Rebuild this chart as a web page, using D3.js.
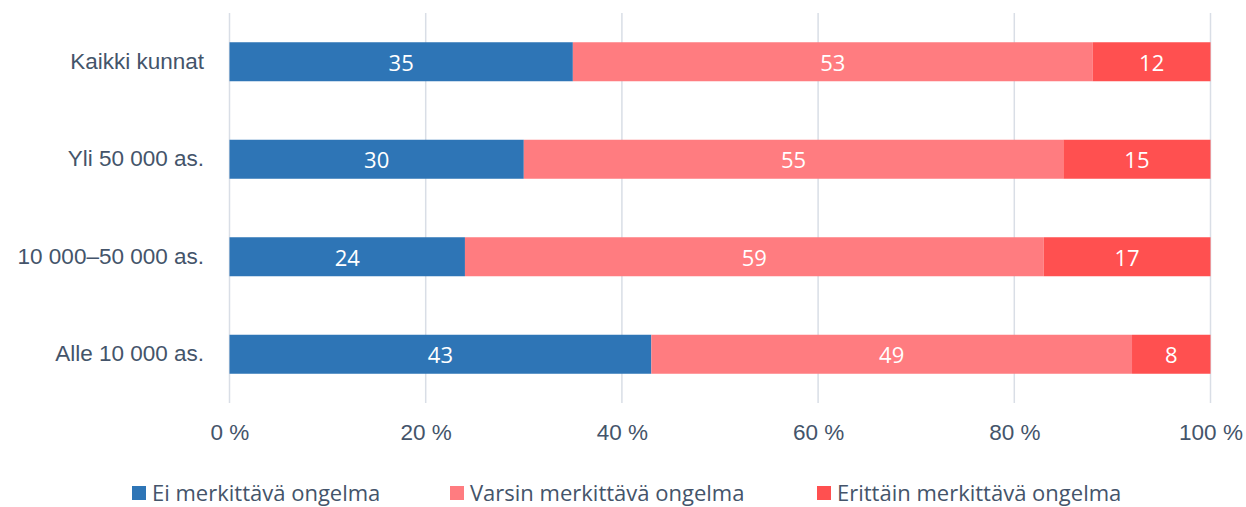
<!DOCTYPE html>
<html>
<head>
<meta charset="utf-8">
<script src="https://cdn.jsdelivr.net/npm/d3@7"></script>
<style>
  body { margin: 0; background: #fff; }
  svg { font-family: "Open Sans", Lato, sans-serif; }
  .tick text { fill: #44546A; font-size: 22.5px; }
</style>
</head>
<body>
<svg id="chart" width="1246" height="507"></svg>
<script>
// DATA
const categories = ['Kaikki kunnat', 'Yli 50 000 as.', '10 000–50 000 as.', 'Alle 10 000 as.'];
const seriesNames = ['Ei merkittävä ongelma', 'Varsin merkittävä ongelma', 'Erittäin merkittävä ongelma'];
const eiValues = [35, 30, 24, 43];
const varsinValues = [53, 55, 59, 49];
const erittainValues = [12, 15, 17, 8];
const xTicks = [0, 20, 40, 60, 80, 100];
const colors = ['#2E75B6', '#FF7C80', '#FF5050'];

const svg = d3.select('#chart');
const textColor = '#44546A';

const rows = categories.map((c, i) => ({
  cat: c,
  vals: [eiValues[i], varsinValues[i], erittainValues[i]]
}));

// SCALES
const xScale = d3.scaleLinear().domain([0, 100]).range([229.5, 1210.5]);
const yScale = d3.scaleBand().domain(categories).range([13, 403]).paddingInner(0.6).paddingOuter(0.3);

// GRID
svg.append('g').selectAll('line').data(xTicks).enter().append('line')
  .attr('x1', d => xScale(d)).attr('x2', d => xScale(d))
  .attr('y1', 13).attr('y2', 403)
  .attr('stroke', '#D9DEE6').attr('stroke-width', 1.5);

// BARS
const barG = svg.append('g');
rows.forEach(r => {
  let start = 0;
  r.vals.forEach((v, j) => {
    const x0 = xScale(start), x1 = xScale(start + v);
    barG.append('rect')
      .attr('x', x0).attr('y', yScale(r.cat))
      .attr('width', x1 - x0).attr('height', yScale.bandwidth())
      .attr('fill', colors[j]);
    barG.append('text')
      .attr('x', (x0 + x1) / 2).attr('y', yScale(r.cat) + yScale.bandwidth() / 2)
      .attr('text-anchor', 'middle').attr('dominant-baseline', 'central')
      .attr('fill', '#fff').attr('font-size', 22)
      .text(v);
    start += v;
  });
});

// Y AXIS LABELS
const yAxis = svg.append('g').attr('transform', 'translate(229,0)')
  .call(d3.axisLeft(yScale).tickSize(0).tickPadding(25));
yAxis.select('.domain').remove();

// X AXIS LABELS
const xAxis = svg.append('g').attr('transform', 'translate(0,403)')
  .call(d3.axisBottom(xScale).tickValues(xTicks).tickSize(0).tickPadding(21).tickFormat(d => d + ' %'));
xAxis.select('.domain').remove();

// LEGEND
const legendX = [132, 450, 817];
const legend = svg.append('g');
seriesNames.forEach((name, i) => {
  legend.append('rect').attr('x', legendX[i]).attr('y', 486).attr('width', 14).attr('height', 14).attr('fill', colors[i]);
  legend.append('text').attr('x', legendX[i] + 20).attr('y', 492)
    .attr('dominant-baseline', 'central').attr('fill', textColor).attr('font-size', 22)
    .text(name);
});
</script>
</body>
</html>
